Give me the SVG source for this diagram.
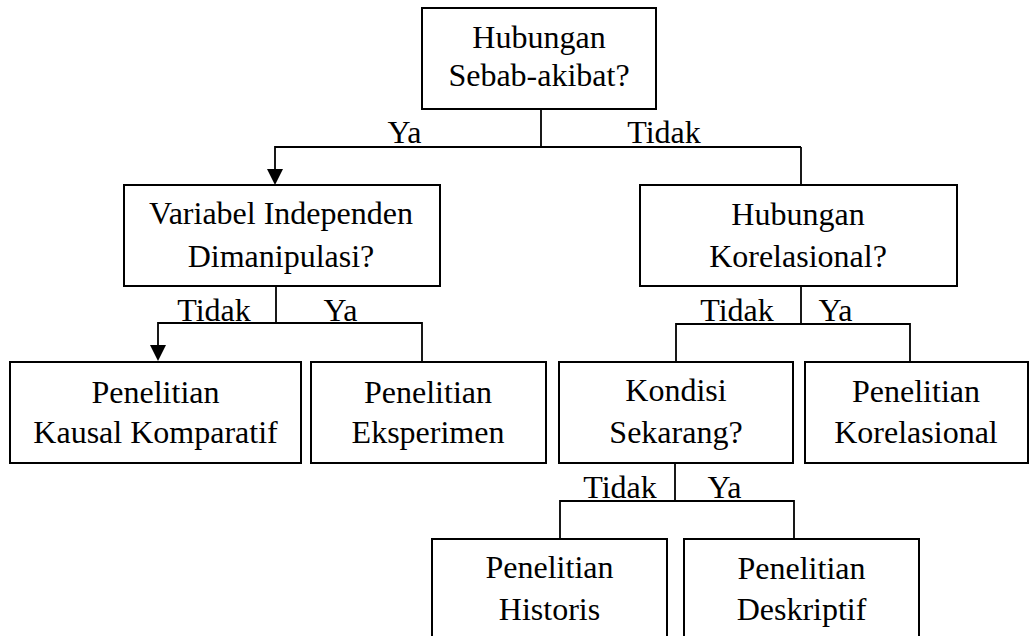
<svg xmlns="http://www.w3.org/2000/svg" width="1030" height="636" viewBox="0 0 1030 636">
<style>
.box{fill:#fff;stroke:#000;stroke-width:2}
.t{font-family:"Liberation Serif","Times New Roman",serif;font-size:32px;fill:#000;text-anchor:middle}
.c{fill:none;stroke:#000;stroke-width:1.8}
</style>
<defs>
<marker id="arr" markerUnits="userSpaceOnUse" markerWidth="16" markerHeight="16" refX="0" refY="8" orient="auto" viewBox="0 0 16 16">
<path d="M0,0 L16,8 L0,16 z" fill="#000"/>
</marker>
</defs>
<rect width="1030" height="636" fill="#fff"/>
<g id="connectors">
<path class="c" d="M541,109 V147"/>
<path class="c" d="M801,147 H275 V169" marker-end="url(#arr)"/>
<path class="c" d="M801,147 V185"/>
<path class="c" d="M276,286 V323"/>
<path class="c" d="M422,362 V323 H158 V345" marker-end="url(#arr)"/>
<path class="c" d="M801,286 V324"/>
<path class="c" d="M676,362 V324 H910 V362"/>
<path class="c" d="M675,463 V501"/>
<path class="c" d="M560,539 V501 H794 V539"/>
<text class="t" x="404.5" y="143">Ya</text>
<text class="t" x="664" y="143">Tidak</text>
<text class="t" x="214" y="321">Tidak</text>
<text class="t" x="340.5" y="321">Ya</text>
<text class="t" x="737" y="321">Tidak</text>
<text class="t" x="835.5" y="321">Ya</text>
<text class="t" x="620" y="498">Tidak</text>
<text class="t" x="724.5" y="498">Ya</text>
</g>
<g id="n1">
<rect class="box" x="422" y="8" width="234" height="101"/>
<text class="t" x="539" y="48">Hubungan</text>
<text class="t" x="539" y="86">Sebab-akibat?</text>
</g>
<g id="n2">
<rect class="box" x="124" y="185" width="316" height="101"/>
<text class="t" x="281" y="224">Variabel Independen</text>
<text class="t" x="281" y="267">Dimanipulasi?</text>
</g>
<g id="n3">
<rect class="box" x="640" y="185" width="317" height="101"/>
<text class="t" x="798" y="225">Hubungan</text>
<text class="t" x="798" y="267">Korelasional?</text>
</g>
<g id="n4">
<rect class="box" x="10" y="362" width="291" height="101"/>
<text class="t" x="155.5" y="403">Penelitian</text>
<text class="t" x="155.5" y="443">Kausal Komparatif</text>
</g>
<g id="n5">
<rect class="box" x="311" y="362" width="235" height="101"/>
<text class="t" x="428" y="403">Penelitian</text>
<text class="t" x="428" y="443">Eksperimen</text>
</g>
<g id="n6">
<rect class="box" x="559" y="362" width="234" height="101"/>
<text class="t" x="676" y="401">Kondisi</text>
<text class="t" x="676" y="443">Sekarang?</text>
</g>
<g id="n7">
<rect class="box" x="805" y="362" width="223" height="101"/>
<text class="t" x="916" y="402">Penelitian</text>
<text class="t" x="916" y="443">Korelasional</text>
</g>
<g id="n8">
<rect class="box" x="432" y="539" width="235" height="120"/>
<text class="t" x="549.5" y="578">Penelitian</text>
<text class="t" x="549.5" y="620">Historis</text>
</g>
<g id="n9">
<rect class="box" x="684" y="539" width="235" height="120"/>
<text class="t" x="801.5" y="579">Penelitian</text>
<text class="t" x="801.5" y="620">Deskriptif</text>
</g>
</svg>
